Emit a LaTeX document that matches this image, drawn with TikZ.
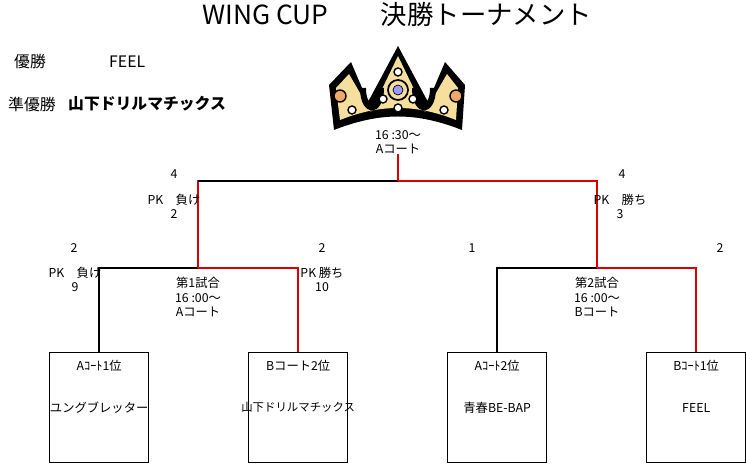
\documentclass[tikz,border=0pt]{standalone}
\usepackage{fontspec}
\setmainfont{Noto Sans CJK JP}
\usetikzlibrary{positioning}
\begin{document}
\begin{tikzpicture}[x=0.02cm, y=-0.02cm, font=\fontsize{7}{8}\selectfont,
  teambox/.style={draw, line width=0.8pt, minimum width=1.98cm, minimum height=2.2cm, anchor=north west, inner sep=0pt},
  win/.style={red!85!black, line width=1.2pt},
  lose/.style={black, line width=1.2pt},
  lbl/.style={inner sep=0pt, align=center}]
	% Define colors
	\definecolor{crowngold}{HTML}{F6DE9C}
	\definecolor{crownorange}{HTML}{F0A868}
	\useasboundingbox (0,0) rectangle (746,465);
	
	% Title and results
	\node[font=\fontsize{15}{16}\selectfont] (title) at (397,15) {WING CUP\quad\quad 決勝トーナメント};
	\node[font=\fontsize{9}{10}\selectfont, anchor=west] (champ) at (8,62) {優勝};
	\node[font=\fontsize{9}{10}\selectfont, anchor=west] (champteam) at (103,62) {FEEL};
	\node[font=\fontsize{9}{10}\selectfont, anchor=west] (runner) at (2,104) {準優勝};
	\node[font=\bfseries\fontsize{9}{10}\selectfont, anchor=west] (runnerteam) at (62,104) {山下ドリルマチックス};
	
	% Crown
	\fill[black] (334,130) .. controls (380,112) and (416,112) .. (462,130) -- (465,85) -- (445,62) -- (428,102) -- (398,46) -- (368,102) -- (351,62) -- (329,85) -- cycle;
	\fill[crowngold] (340,120) .. controls (380,104) and (416,104) .. (456,120) -- (458,88) -- (447,74) -- (425,112) -- (398,56) -- (371,112) -- (349,74) -- (336,88) -- cycle;
	\fill[black] (360,88) .. controls (360,118) and (384,118) .. (384,88) -- (378,88) .. controls (378,108) and (366,108) .. (366,88) -- cycle;
	\fill[black] (412,88) .. controls (412,118) and (436,118) .. (436,88) -- (430,88) .. controls (430,108) and (418,108) .. (418,88) -- cycle;
	\filldraw[fill=crowngold, draw=black, line width=1pt] (398,90) circle (10);
	\filldraw[fill=blue!40, draw=black] (398,90) circle (5);
	\foreach \cx/\cy in {398/72, 398/108, 383/99, 413/99, 352/110, 444/110} {
		\filldraw[fill=white, draw=black, line width=0.8pt] (\cx,\cy) circle (4);
	}
	\filldraw[fill=crownorange, draw=black, line width=0.8pt] (340,96) circle (6);
	\filldraw[fill=crownorange, draw=black, line width=0.8pt] (456,96) circle (6);
	
	% Team boxes
	\node[teambox] (t1) at (49,352) {};
	\node[teambox] (t2) at (248,352) {};
	\node[teambox] (t3) at (447,352) {};
	\node[teambox] (t4) at (646,352) {};
	\node[lbl] at ([yshift=-0.28cm]t1.north) {Aｺｰﾄ1位};
	\node[lbl] at ([yshift=-0.28cm]t2.north) {Bコート2位};
	\node[lbl] at ([yshift=-0.28cm]t3.north) {Aｺｰﾄ2位};
	\node[lbl] at ([yshift=-0.28cm]t4.north) {Bｺｰﾄ1位};
	\node[lbl] at (t1.center) {ユングブレッター};
	\node[lbl, font=\fontsize{6.5}{8}\selectfont] at (t2.center) {山下ドリルマチックス};
	\node[lbl] at (t3.center) {青春BE-BAP};
	\node[lbl] at (t4.center) {FEEL};
	
	% Junctions
	\coordinate (m1) at (198,268);
	\coordinate (m2) at (597,268);
	\coordinate (f) at (398,181);
	\node[lbl] (fin) at (398,142) {16 :30～\\Aコート};
	
	% Bracket lines
	\draw[lose] (t1.north) |- (m1);
	\draw[win] (t2.north) |- (m1);
	\draw[lose] (t3.north) |- (m2);
	\draw[win] (t4.north) |- (m2);
	\draw[win] (m1) |- (f);
	\draw[win] (m2) |- (f);
	\draw[lose] (m1 |- f) -- (f);
	\draw[win] (f) -- (fin.south);
	
	% Match labels
	\node[lbl] at (198,297) {第1試合\\16 :00～\\ Aコート};
	\node[lbl] at (597,297) {第2試合\\16 :00～\\ Bコート};
	
	% Scores
	\node[lbl] at (174,174) {4};
	\node[lbl] at (174,206) {PK\quad 負け\\2};
	\node[lbl] at (622,174) {4};
	\node[lbl] at (620,206) {PK\quad 勝ち\\3};
	\node[lbl] at (74,248) {2};
	\node[lbl] at (75,279) {PK\quad 負け\\9};
	\node[lbl] at (322,248) {2};
	\node[lbl] at (322,279) {PK 勝ち\\10};
	\node[lbl] at (472,248) {1};
	\node[lbl] at (720,248) {2};
\end{tikzpicture}
\end{document}
